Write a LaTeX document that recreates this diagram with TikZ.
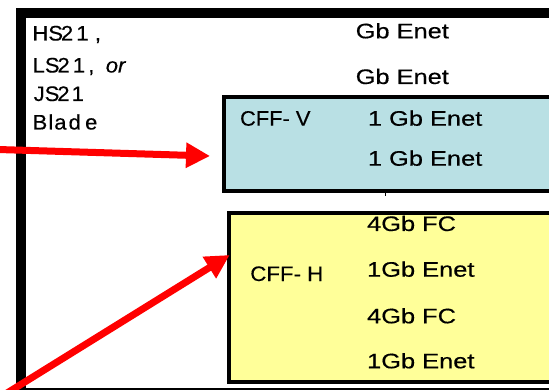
\documentclass[tikz,border=0pt]{standalone}
\usepackage{graphicx}
\usepackage{fontspec}
\setmainfont{Liberation Sans}[FakeBold=0.35]
\usetikzlibrary{arrows.meta}
\definecolor{cffvfill}{RGB}{185,224,228}
\definecolor{cffhfill}{RGB}{255,255,153}
\definecolor{arrowred}{RGB}{255,0,0}
\newcommand\hstretch[2]{\scalebox{#1}[1]{#2}}
\begin{document}
\begin{tikzpicture}[x=1pt,y=-1pt,
  lbl/.style={anchor=base west, inner sep=0pt, font=\fontsize{21}{25}\selectfont},
  bladeframe/.style={draw=black, line width=10pt, fill=white, anchor=north west, inner sep=0pt},
  card/.style={draw=black, line width=4pt, anchor=north west, inner sep=0pt},
  redarrow/.style={draw=arrowred, line width=7pt, -{Triangle[length=24pt,width=24pt]}}]
\useasboundingbox (0,0) rectangle (549,390);
\clip (0,0) rectangle (549,390);
% outer blade frame
\node[bladeframe, minimum width=620pt, minimum height=379.5pt] (blade) at (16,8.5) {};
% cards
\node[card, fill=cffvfill, minimum width=400pt, minimum height=94.5pt] (cffv) at (222,95) {};
\node[card, fill=cffhfill, minimum width=400pt, minimum height=169pt] (cffh) at (227.3,211) {};
\coordinate (tickA) at (385.7,191.5);
\coordinate (tickB) at (385.7,196.5);
\draw[line width=1pt] (tickA) -- (tickB);
% blade labels
\node[lbl] (hs) at (32.2,40.5) {\hstretch{1.05}{HS\kern-2pt 2\kern3pt 1\kern6pt,}};
\node[lbl] (ls) at (32.4,72.5) {\hstretch{1.05}{LS\kern-2pt 2\kern3pt 1\kern3pt, \kern5pt\textit{or}}};
\node[lbl] (js) at (33.5,101) {\hstretch{1.05}{JS\kern-2pt 2\kern2pt 1}};
\node[lbl] (bl) at (32.4,129.5) {\hstretch{1.05}{B\kern1pt l\kern1pt a\kern2pt d\kern4pt e}};
\node[lbl] (g1) at (355.5,38.3) {\hstretch{1.21}{Gb Enet}};
\node[lbl] (g2) at (355.5,84) {\hstretch{1.21}{Gb Enet}};
% CFF-V labels
\node[lbl] (vl) at (239.9,125.7) {\hstretch{1.04}{CFF- V}};
\node[lbl] (v1) at (367.7,125.7) {\hstretch{1.21}{1 Gb Enet}};
\node[lbl] (v2) at (367.7,165.7) {\hstretch{1.21}{1 Gb Enet}};
% CFF-H labels
\node[lbl] (hl) at (250.1,281) {\hstretch{1.06}{CFF- H}};
\node[lbl] (h1) at (366.9,231) {\hstretch{1.21}{4Gb FC}};
\node[lbl] (h2) at (366.9,276.7) {\hstretch{1.21}{1Gb Enet}};
\node[lbl] (h3) at (366.9,323.3) {\hstretch{1.21}{4Gb FC}};
\node[lbl] (h4) at (366.9,368.3) {\hstretch{1.21}{1Gb Enet}};
% red arrows
\coordinate (a1s) at (-2,149.5);
\coordinate (a1e) at (210,156);
\coordinate (a2s) at (0,397.4);
\coordinate (a2e) at (229.7,255);
\draw[redarrow] (a1s) -- (a1e);
\draw[redarrow] (a2s) -- (a2e);
\end{tikzpicture}
\end{document}
